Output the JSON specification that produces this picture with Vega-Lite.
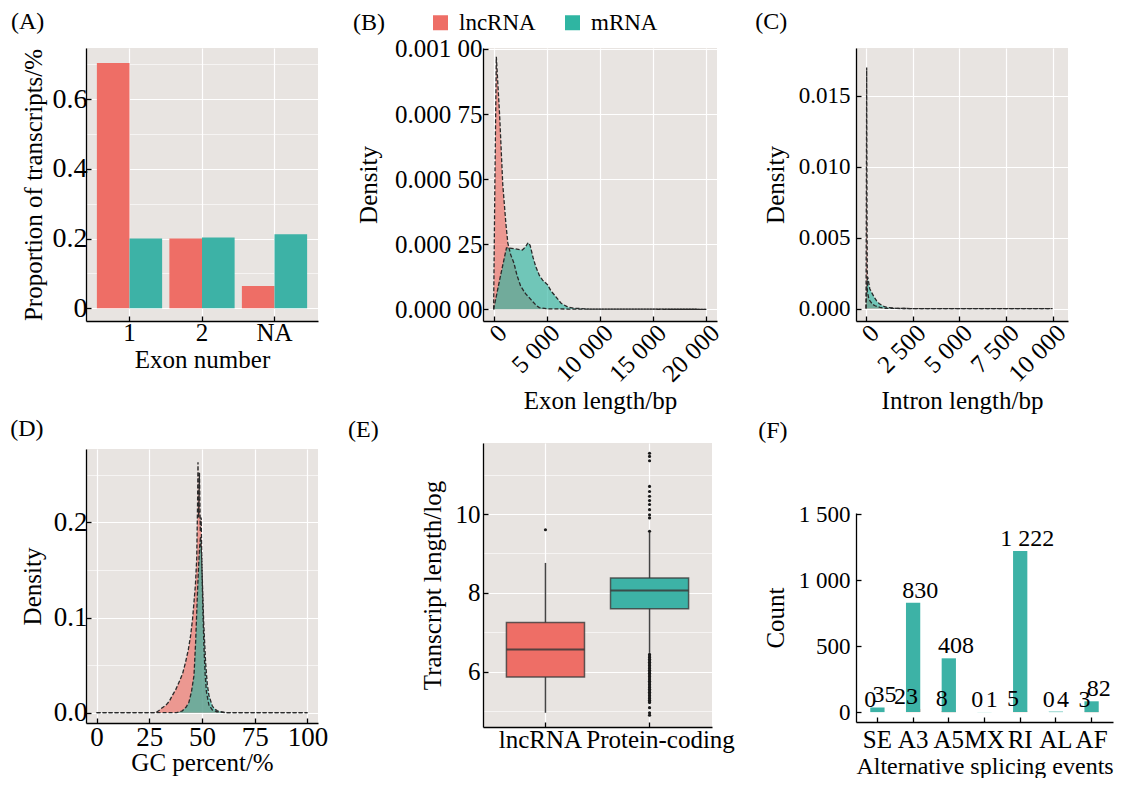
{
  "$schema": "https://vega.github.io/schema/vega-lite/v6.json",
  "background": "white",
  "padding": {"left": 10, "top": 10, "right": 0, "bottom": 0},
  "config": {
    "font": "Liberation Serif",
    "locale": {"number": {"decimal": ".", "thousands": " ", "grouping": [3], "currency": ["", ""]}},
    "view": {"fill": "#E8E4E1", "stroke": null},
    "title": {"anchor": "start", "frame": "bounds", "fontSize": 24, "fontWeight": "normal", "font": "Liberation Serif", "color": "#000000"},
    "axis": {
      "domainColor": "#000000", "domainWidth": 1.3,
      "tickColor": "#000000", "tickWidth": 1.3, "tickSize": -5,
      "labelColor": "#000000", "labelFont": "Liberation Serif", "labelFontSize": 25,
      "titleColor": "#000000", "titleFont": "Liberation Serif", "titleFontSize": 25, "titleFontWeight": "normal",
      "gridColor": "#FFFFFF", "gridWidth": 1.2,
      "labelPadding": 8, "titlePadding": 6,
      "labelOverlap": false, "labelFlush": false
    }
  },
  "datasets": {
    "exon": [
      {"exon": "1", "type": "lncRNA", "prop": 0.703},
      {"exon": "1", "type": "mRNA", "prop": 0.2},
      {"exon": "2", "type": "lncRNA", "prop": 0.2},
      {"exon": "2", "type": "mRNA", "prop": 0.203},
      {"exon": "NA", "type": "lncRNA", "prop": 0.064},
      {"exon": "NA", "type": "mRNA", "prop": 0.212}
    ],
    "exonlen": [
      {"type": "lncRNA", "x": 0, "d": 0},
      {"type": "lncRNA", "x": 120, "d": 0.0005},
      {"type": "lncRNA", "x": 254, "d": 0.00097},
      {"type": "lncRNA", "x": 571, "d": 0.00074},
      {"type": "lncRNA", "x": 857, "d": 0.00048},
      {"type": "lncRNA", "x": 1150, "d": 0.00033},
      {"type": "lncRNA", "x": 1333, "d": 0.000255},
      {"type": "lncRNA", "x": 1600, "d": 0.00021},
      {"type": "lncRNA", "x": 1905, "d": 0.000178},
      {"type": "lncRNA", "x": 2200, "d": 0.00013},
      {"type": "lncRNA", "x": 2540, "d": 0.000089},
      {"type": "lncRNA", "x": 3000, "d": 0.00006},
      {"type": "lncRNA", "x": 3492, "d": 0.000038},
      {"type": "lncRNA", "x": 4000, "d": 0.000015},
      {"type": "lncRNA", "x": 4286, "d": 0.0000064},
      {"type": "lncRNA", "x": 5000, "d": 0.000002},
      {"type": "lncRNA", "x": 7000, "d": 0.000001},
      {"type": "lncRNA", "x": 10000, "d": 0.0000005},
      {"type": "lncRNA", "x": 20000, "d": 0},
      {"type": "mRNA", "x": 0, "d": 0},
      {"type": "mRNA", "x": 600, "d": 0.00012},
      {"type": "mRNA", "x": 1206, "d": 0.000236},
      {"type": "mRNA", "x": 1500, "d": 0.000235},
      {"type": "mRNA", "x": 2063, "d": 0.000232},
      {"type": "mRNA", "x": 2698, "d": 0.000228},
      {"type": "mRNA", "x": 3000, "d": 0.00024},
      {"type": "mRNA", "x": 3238, "d": 0.000256},
      {"type": "mRNA", "x": 3429, "d": 0.000246},
      {"type": "mRNA", "x": 3700, "d": 0.0002},
      {"type": "mRNA", "x": 3968, "d": 0.000163},
      {"type": "mRNA", "x": 4300, "d": 0.00013},
      {"type": "mRNA", "x": 4603, "d": 0.000112},
      {"type": "mRNA", "x": 5079, "d": 0.000094},
      {"type": "mRNA", "x": 5400, "d": 0.00007},
      {"type": "mRNA", "x": 5714, "d": 0.000055},
      {"type": "mRNA", "x": 6349, "d": 0.000023},
      {"type": "mRNA", "x": 6984, "d": 0.0000083},
      {"type": "mRNA", "x": 7619, "d": 0.000004},
      {"type": "mRNA", "x": 9000, "d": 0.000001},
      {"type": "mRNA", "x": 12000, "d": 0.0000005},
      {"type": "mRNA", "x": 20000, "d": 0}
    ],
    "intronlen": [
      {"type": "lncRNA", "x": 0, "d": 0},
      {"type": "lncRNA", "x": 20, "d": 0.009},
      {"type": "lncRNA", "x": 36, "d": 0.017},
      {"type": "lncRNA", "x": 55, "d": 0.006},
      {"type": "lncRNA", "x": 72, "d": 0.0012},
      {"type": "lncRNA", "x": 150, "d": 0.0007},
      {"type": "lncRNA", "x": 215, "d": 0.00054},
      {"type": "lncRNA", "x": 350, "d": 0.0003},
      {"type": "lncRNA", "x": 483, "d": 0.0002},
      {"type": "lncRNA", "x": 750, "d": 0.00008},
      {"type": "lncRNA", "x": 1020, "d": 0.00002},
      {"type": "lncRNA", "x": 2000, "d": 0.000005},
      {"type": "lncRNA", "x": 4000, "d": 0},
      {"type": "lncRNA", "x": 10000, "d": 0},
      {"type": "mRNA", "x": 0, "d": 0},
      {"type": "mRNA", "x": 40, "d": 0.0016},
      {"type": "mRNA", "x": 89, "d": 0.00223},
      {"type": "mRNA", "x": 150, "d": 0.0018},
      {"type": "mRNA", "x": 200, "d": 0.0014},
      {"type": "mRNA", "x": 304, "d": 0.00113},
      {"type": "mRNA", "x": 440, "d": 0.0008},
      {"type": "mRNA", "x": 572, "d": 0.00054},
      {"type": "mRNA", "x": 700, "d": 0.00036},
      {"type": "mRNA", "x": 841, "d": 0.00024},
      {"type": "mRNA", "x": 1000, "d": 0.00013},
      {"type": "mRNA", "x": 1199, "d": 0.00007},
      {"type": "mRNA", "x": 1600, "d": 0.00002},
      {"type": "mRNA", "x": 2200, "d": 0.000005},
      {"type": "mRNA", "x": 3000, "d": 0},
      {"type": "mRNA", "x": 10000, "d": 0}
    ],
    "gc": [
      {"type": "lncRNA", "x": 0, "d": 0},
      {"type": "lncRNA", "x": 28, "d": 0},
      {"type": "lncRNA", "x": 29.6, "d": 0.0024},
      {"type": "lncRNA", "x": 31, "d": 0.005},
      {"type": "lncRNA", "x": 32.8, "d": 0.0077},
      {"type": "lncRNA", "x": 34.5, "d": 0.012},
      {"type": "lncRNA", "x": 35.9, "d": 0.018},
      {"type": "lncRNA", "x": 37.5, "d": 0.024},
      {"type": "lncRNA", "x": 39.1, "d": 0.032},
      {"type": "lncRNA", "x": 40.8, "d": 0.041},
      {"type": "lncRNA", "x": 42.2, "d": 0.053},
      {"type": "lncRNA", "x": 43.5, "d": 0.066},
      {"type": "lncRNA", "x": 44.6, "d": 0.081},
      {"type": "lncRNA", "x": 45.5, "d": 0.098},
      {"type": "lncRNA", "x": 46.2, "d": 0.116},
      {"type": "lncRNA", "x": 46.9, "d": 0.135},
      {"type": "lncRNA", "x": 47.5, "d": 0.162},
      {"type": "lncRNA", "x": 47.9, "d": 0.22},
      {"type": "lncRNA", "x": 48.1, "d": 0.263},
      {"type": "lncRNA", "x": 48.4, "d": 0.205},
      {"type": "lncRNA", "x": 48.8, "d": 0.252},
      {"type": "lncRNA", "x": 49.2, "d": 0.19},
      {"type": "lncRNA", "x": 49.6, "d": 0.205},
      {"type": "lncRNA", "x": 50.0, "d": 0.15},
      {"type": "lncRNA", "x": 50.4, "d": 0.11},
      {"type": "lncRNA", "x": 50.9, "d": 0.07},
      {"type": "lncRNA", "x": 51.5, "d": 0.04},
      {"type": "lncRNA", "x": 52.1, "d": 0.022},
      {"type": "lncRNA", "x": 53.3, "d": 0.008},
      {"type": "lncRNA", "x": 54.9, "d": 0.003},
      {"type": "lncRNA", "x": 57, "d": 0.001},
      {"type": "lncRNA", "x": 61.2, "d": 0},
      {"type": "lncRNA", "x": 100, "d": 0},
      {"type": "mRNA", "x": 0, "d": 0},
      {"type": "mRNA", "x": 38, "d": 0},
      {"type": "mRNA", "x": 40.7, "d": 0.002},
      {"type": "mRNA", "x": 42.5, "d": 0.006},
      {"type": "mRNA", "x": 43.8, "d": 0.011},
      {"type": "mRNA", "x": 45, "d": 0.022},
      {"type": "mRNA", "x": 46.2, "d": 0.039},
      {"type": "mRNA", "x": 47, "d": 0.075},
      {"type": "mRNA", "x": 47.8, "d": 0.123},
      {"type": "mRNA", "x": 48.3, "d": 0.15},
      {"type": "mRNA", "x": 48.8, "d": 0.172},
      {"type": "mRNA", "x": 49.3, "d": 0.185},
      {"type": "mRNA", "x": 49.8, "d": 0.165},
      {"type": "mRNA", "x": 50.3, "d": 0.13},
      {"type": "mRNA", "x": 50.8, "d": 0.095},
      {"type": "mRNA", "x": 51.7, "d": 0.053},
      {"type": "mRNA", "x": 52.5, "d": 0.03},
      {"type": "mRNA", "x": 53.3, "d": 0.018},
      {"type": "mRNA", "x": 54.9, "d": 0.007},
      {"type": "mRNA", "x": 56, "d": 0.004},
      {"type": "mRNA", "x": 57.3, "d": 0.002},
      {"type": "mRNA", "x": 61.2, "d": 0},
      {"type": "mRNA", "x": 100, "d": 0}
    ],
    "boxstats": [
      {"group": "lncRNA", "lower": 4.96, "q1": 5.865, "median": 6.565, "q3": 7.25, "upper": 8.76},
      {"group": "Protein-coding", "lower": 6.48, "q1": 7.595, "median": 8.06, "q3": 8.38, "upper": 9.52}
    ],
    "outliers": [
      {"group": "lncRNA", "v": 9.6},
      {"group": "Protein-coding", "v": 9.56},
      {"group": "Protein-coding", "v": 9.9},
      {"group": "Protein-coding", "v": 9.98},
      {"group": "Protein-coding", "v": 10.11},
      {"group": "Protein-coding", "v": 10.24},
      {"group": "Protein-coding", "v": 10.34},
      {"group": "Protein-coding", "v": 10.45},
      {"group": "Protein-coding", "v": 10.57},
      {"group": "Protein-coding", "v": 10.7},
      {"group": "Protein-coding", "v": 11.35},
      {"group": "Protein-coding", "v": 11.46},
      {"group": "Protein-coding", "v": 11.54},
      {"group": "Protein-coding", "v": 6.44},
      {"group": "Protein-coding", "v": 6.4},
      {"group": "Protein-coding", "v": 6.36},
      {"group": "Protein-coding", "v": 6.32},
      {"group": "Protein-coding", "v": 6.28},
      {"group": "Protein-coding", "v": 6.24},
      {"group": "Protein-coding", "v": 6.2},
      {"group": "Protein-coding", "v": 6.16},
      {"group": "Protein-coding", "v": 6.12},
      {"group": "Protein-coding", "v": 6.08},
      {"group": "Protein-coding", "v": 6.04},
      {"group": "Protein-coding", "v": 6.0},
      {"group": "Protein-coding", "v": 5.96},
      {"group": "Protein-coding", "v": 5.92},
      {"group": "Protein-coding", "v": 5.88},
      {"group": "Protein-coding", "v": 5.84},
      {"group": "Protein-coding", "v": 5.8},
      {"group": "Protein-coding", "v": 5.76},
      {"group": "Protein-coding", "v": 5.72},
      {"group": "Protein-coding", "v": 5.68},
      {"group": "Protein-coding", "v": 5.64},
      {"group": "Protein-coding", "v": 5.6},
      {"group": "Protein-coding", "v": 5.56},
      {"group": "Protein-coding", "v": 5.52},
      {"group": "Protein-coding", "v": 5.48},
      {"group": "Protein-coding", "v": 5.44},
      {"group": "Protein-coding", "v": 5.4},
      {"group": "Protein-coding", "v": 5.36},
      {"group": "Protein-coding", "v": 5.32},
      {"group": "Protein-coding", "v": 5.28},
      {"group": "Protein-coding", "v": 5.24},
      {"group": "Protein-coding", "v": 5.22},
      {"group": "Protein-coding", "v": 5.09},
      {"group": "Protein-coding", "v": 4.96},
      {"group": "Protein-coding", "v": 4.9}
    ],
    "splicing": [
      {"event": "SE", "type": "lncRNA", "count": 0},
      {"event": "SE", "type": "mRNA", "count": 35},
      {"event": "A3", "type": "lncRNA", "count": 23},
      {"event": "A3", "type": "mRNA", "count": 830},
      {"event": "A5", "type": "lncRNA", "count": 8},
      {"event": "A5", "type": "mRNA", "count": 408},
      {"event": "MX", "type": "lncRNA", "count": 0},
      {"event": "MX", "type": "mRNA", "count": 1},
      {"event": "RI", "type": "lncRNA", "count": 5},
      {"event": "RI", "type": "mRNA", "count": 1222},
      {"event": "AL", "type": "lncRNA", "count": 0},
      {"event": "AL", "type": "mRNA", "count": 4},
      {"event": "AF", "type": "lncRNA", "count": 3},
      {"event": "AF", "type": "mRNA", "count": 82}
    ]
  },
  "spacing": 20,
  "resolve": {"scale": {"color": "independent"}, "legend": {"color": "independent"}},
  "hconcat": [
    {
      "spacing": 45,
      "resolve": {"scale": {"color": "independent"}, "legend": {"color": "independent"}},
      "vconcat": [
        {
          "width": 232, "height": 273,
          "title": {"text": "(A)", "dx": -10, "offset": 14},
          "data": {"name": "exon"},
          "mark": {"type": "bar"},
          "encoding": {
            "x": {"field": "exon", "type": "nominal", "sort": ["1", "2", "NA"],
                  "scale": {"paddingInner": 0.1, "paddingOuter": 0.15},
                  "axis": {"title": "Exon number", "labelAngle": 0, "bandPosition": 0.5, "grid": true, "labelPadding": 4, "titlePadding": 2}},
            "xOffset": {"field": "type", "type": "nominal", "sort": ["lncRNA", "mRNA"], "scale": {"paddingInner": 0}},
            "y": {"field": "prop", "type": "quantitative",
                  "scale": {"domain": [-0.0364, 0.7463], "nice": false, "zero": false},
                  "axis": {"title": "Proportion of transcripts/%", "values": [0, 0.1, 0.2, 0.3, 0.4, 0.5, 0.6, 0.7],
                           "labelExpr": "indexof([0, 0.2, 0.4, 0.6], datum.value) >= 0 ? format(datum.value, '~g') : ''",
                           "tickOpacity": {"condition": {"test": "indexof([0, 0.2, 0.4, 0.6], datum.value) < 0", "value": 0}, "value": 1},
                           "gridWidth": {"condition": {"test": "indexof([0, 0.2, 0.4, 0.6], datum.value) < 0", "value": 0.6}, "value": 1.2},
                           "labelFontSize": 28, "labelPadding": 4, "titlePadding": 6}},
            "y2": {"datum": 0},
            "color": {"field": "type", "type": "nominal", "scale": {"domain": ["lncRNA", "mRNA"], "range": ["#EE6E66", "#3DB2A6"]}, "legend": null}
          }
        },
        {
          "width": 232, "height": 274,
          "title": {"text": "(D)", "dx": -10, "offset": 8},
          "data": {"name": "gc"},
          "layer": [
            {
              "mark": {"type": "area", "fillOpacity": 0.65},
              "encoding": {
                "x": {"field": "x", "type": "quantitative",
                      "scale": {"domain": [-5, 105], "nice": false, "zero": false},
                      "axis": {"title": "GC percent/%", "values": [0, 12.5, 25, 37.5, 50, 62.5, 75, 87.5, 100],
                               "labelExpr": "indexof([0, 25, 50, 75, 100], datum.value) >= 0 ? datum.label : ''",
                               "tickOpacity": {"condition": {"test": "indexof([0, 25, 50, 75, 100], datum.value) < 0", "value": 0}, "value": 1},
                               "gridWidth": {"condition": {"test": "indexof([0, 25, 50, 75, 100], datum.value) < 0", "value": 0.6}, "value": 1.2},
                               "labelFontSize": 27, "labelPadding": 6, "titlePadding": 0}},
                "y": {"field": "d", "type": "quantitative", "stack": null,
                      "scale": {"domain": [-0.0108, 0.277], "nice": false, "zero": false},
                      "axis": {"title": "Density", "values": [0, 0.05, 0.1, 0.15, 0.2, 0.25],
                               "labelExpr": "indexof([0, 0.1, 0.2], datum.value) >= 0 ? format(datum.value, '.1f') : ''",
                               "tickOpacity": {"condition": {"test": "indexof([0, 0.1, 0.2], datum.value) < 0", "value": 0}, "value": 1},
                               "gridWidth": {"condition": {"test": "indexof([0, 0.1, 0.2], datum.value) < 0", "value": 0.6}, "value": 1.2},
                               "labelFontSize": 27, "labelPadding": 4, "titlePadding": 8}},
                "color": {"field": "type", "type": "nominal", "scale": {"domain": ["lncRNA", "mRNA"], "range": ["#EE6E66", "#2FB5A2"]}, "legend": null}
              }
            },
            {
              "mark": {"type": "line", "color": "#2a2a2a", "strokeWidth": 1.3, "strokeDash": [4, 2]},
              "encoding": {
                "x": {"field": "x", "type": "quantitative"},
                "y": {"field": "d", "type": "quantitative"},
                "detail": {"field": "type"}
              }
            }
          ]
        }
      ]
    },
    {
      "spacing": 4,
      "resolve": {"scale": {"color": "independent"}, "legend": {"color": "independent"}},
      "vconcat": [
        {
          "width": 234, "height": 273,
          "data": {"name": "exonlen"},
          "layer": [
            {
              "mark": {"type": "area", "fillOpacity": 0.65},
              "encoding": {
                "x": {"field": "x", "type": "quantitative",
                      "scale": {"domain": [-1000, 21000], "nice": false, "zero": false},
                      "axis": {"title": "Exon length/bp", "values": [0, 2500, 5000, 7500, 10000, 12500, 15000, 17500, 20000],
                               "labelExpr": "indexof([0, 5000, 10000, 15000, 20000], datum.value) >= 0 ? format(datum.value, ',.0f') : ''",
                               "tickOpacity": {"condition": {"test": "indexof([0, 5000, 10000, 15000, 20000], datum.value) < 0", "value": 0}, "value": 1},
                               "gridWidth": {"condition": {"test": "indexof([0, 5000, 10000, 15000, 20000], datum.value) < 0", "value": 0.6}, "value": 1.2},
                               "labelAngle": 315, "labelPadding": 4, "titlePadding": 2}},
                "y": {"field": "d", "type": "quantitative", "stack": null,
                      "scale": {"domain": [-0.000045, 0.0010038], "nice": false, "zero": false},
                      "axis": {"title": "Density", "values": [0, 0.000125, 0.00025, 0.000375, 0.0005, 0.000625, 0.00075, 0.000875, 0.001],
                               "labelExpr": "indexof([0, 0.00025, 0.0005, 0.00075, 0.001], datum.value) >= 0 ? slice(format(datum.value, '.5f'), 0, 5) + ' ' + slice(format(datum.value, '.5f'), 5) : ''",
                               "tickOpacity": {"condition": {"test": "indexof([0, 0.00025, 0.0005, 0.00075, 0.001], datum.value) < 0", "value": 0}, "value": 1},
                               "gridWidth": {"condition": {"test": "indexof([0, 0.00025, 0.0005, 0.00075, 0.001], datum.value) < 0", "value": 0.6}, "value": 1.2},
                               "labelPadding": 6, "titlePadding": 13}},
                "color": {"field": "type", "type": "nominal", "scale": {"domain": ["lncRNA", "mRNA"], "range": ["#EE6E66", "#2FB5A2"]},
                          "legend": {"title": "(B)", "orient": "none", "legendX": -130, "legendY": -37, "direction": "horizontal",
                                     "titleOrient": "left", "titleFontSize": 24, "titleFontWeight": "normal", "titleFont": "Liberation Serif", "titleColor": "#000000",
                                     "titlePadding": 44, "labelFontSize": 23, "labelFont": "Liberation Serif", "labelColor": "#000000",
                                     "symbolType": "square", "symbolSize": 225, "symbolStrokeWidth": 0, "symbolOpacity": 1, "columnPadding": 25, "labelOffset": 7, "padding": 0}}
              }
            },
            {
              "mark": {"type": "line", "color": "#2a2a2a", "strokeWidth": 1.3, "strokeDash": [4, 2]},
              "encoding": {
                "x": {"field": "x", "type": "quantitative"},
                "y": {"field": "d", "type": "quantitative"},
                "detail": {"field": "type"}
              }
            }
          ]
        },
        {
          "width": 229, "height": 284,
          "title": {"text": "(E)", "dx": -72, "offset": 1},
          "layer": [
            {
              "data": {"name": "boxstats"},
              "mark": {"type": "rule", "color": "#444444", "strokeWidth": 1.5},
              "encoding": {
                "x": {"field": "group", "type": "nominal", "sort": ["lncRNA", "Protein-coding"],
                      "scale": {"paddingInner": 0.25, "paddingOuter": 0.225},
                      "axis": {"title": null, "labelAngle": 0, "bandPosition": 0.5, "grid": true, "labelPadding": 5,
                               "labelOffset": {"condition": {"test": "datum.value === 'lncRNA'", "value": -5}, "value": 11}}},
                "y": {"field": "lower", "type": "quantitative",
                      "scale": {"domain": [4.6, 11.8], "nice": false, "zero": false},
                      "axis": {"title": "Transcript length/log", "values": [5, 6, 7, 8, 9, 10, 11],
                               "labelExpr": "indexof([6, 8, 10], datum.value) >= 0 ? datum.label : ''",
                               "tickOpacity": {"condition": {"test": "indexof([6, 8, 10], datum.value) < 0", "value": 0}, "value": 1},
                               "gridWidth": {"condition": {"test": "indexof([6, 8, 10], datum.value) < 0", "value": 0.6}, "value": 1.2},
                               "labelPadding": 8, "titlePadding": 10}},
                "y2": {"field": "upper"}
              }
            },
            {
              "data": {"name": "boxstats"},
              "mark": {"type": "bar", "stroke": "#3a3a3a", "strokeWidth": 1.5, "strokeOpacity": 0.8},
              "encoding": {
                "x": {"field": "group", "type": "nominal", "sort": ["lncRNA", "Protein-coding"]},
                "y": {"field": "q1", "type": "quantitative"},
                "y2": {"field": "q3"},
                "color": {"field": "group", "type": "nominal", "scale": {"domain": ["lncRNA", "Protein-coding"], "range": ["#EE6E66", "#3DB2A6"]}, "legend": null}
              }
            },
            {
              "data": {"name": "boxstats"},
              "mark": {"type": "bar", "fill": null, "stroke": "#3a3a3a", "strokeWidth": 2, "strokeOpacity": 0.85},
              "encoding": {
                "x": {"field": "group", "type": "nominal", "sort": ["lncRNA", "Protein-coding"]},
                "y": {"field": "median", "type": "quantitative"},
                "y2": {"field": "median"}
              }
            },
            {
              "data": {"name": "outliers"},
              "mark": {"type": "point", "filled": true, "color": "#1a1a1a", "size": 10, "opacity": 1},
              "encoding": {
                "x": {"field": "group", "type": "nominal", "sort": ["lncRNA", "Protein-coding"]},
                "y": {"field": "v", "type": "quantitative"}
              }
            }
          ]
        }
      ]
    },
    {
      "spacing": 5,
      "resolve": {"scale": {"color": "independent"}, "legend": {"color": "independent"}},
      "vconcat": [
        {
          "width": 212, "height": 273,
          "title": {"text": "(C)", "dx": -8, "offset": 14},
          "data": {"name": "intronlen"},
          "layer": [
            {
              "mark": {"type": "area", "fillOpacity": 0.65},
              "encoding": {
                "x": {"field": "x", "type": "quantitative",
                      "scale": {"domain": [-537, 10827], "nice": false, "zero": false},
                      "axis": {"title": "Intron length/bp", "values": [0, 1250, 2500, 3750, 5000, 6250, 7500, 8750, 10000],
                               "labelExpr": "indexof([0, 2500, 5000, 7500, 10000], datum.value) >= 0 ? format(datum.value, ',.0f') : ''",
                               "tickOpacity": {"condition": {"test": "indexof([0, 2500, 5000, 7500, 10000], datum.value) < 0", "value": 0}, "value": 1},
                               "gridWidth": {"condition": {"test": "indexof([0, 2500, 5000, 7500, 10000], datum.value) < 0", "value": 0.6}, "value": 1.2},
                               "labelAngle": 315, "labelPadding": 4, "titlePadding": 2}},
                "y": {"field": "d", "type": "quantitative", "stack": null,
                      "scale": {"domain": [-0.000875, 0.01837], "nice": false, "zero": false},
                      "axis": {"title": "Density", "values": [0, 0.0025, 0.005, 0.0075, 0.01, 0.0125, 0.015, 0.0175],
                               "labelExpr": "indexof([0, 0.005, 0.01, 0.015], datum.value) >= 0 ? format(datum.value, '.3f') : ''",
                               "tickOpacity": {"condition": {"test": "indexof([0, 0.005, 0.01, 0.015], datum.value) < 0", "value": 0}, "value": 1},
                               "gridWidth": {"condition": {"test": "indexof([0, 0.005, 0.01, 0.015], datum.value) < 0", "value": 0.6}, "value": 1.2},
                               "labelFontSize": 23, "labelPadding": 11, "titlePadding": 10}},
                "color": {"field": "type", "type": "nominal", "scale": {"domain": ["lncRNA", "mRNA"], "range": ["#EE6E66", "#2FB5A2"]}, "legend": null}
              }
            },
            {
              "mark": {"type": "line", "color": "#2a2a2a", "strokeWidth": 1.3, "strokeDash": [4, 2]},
              "encoding": {
                "x": {"field": "x", "type": "quantitative"},
                "y": {"field": "d", "type": "quantitative"},
                "detail": {"field": "type"}
              }
            }
          ]
        },
        {
          "width": 257, "height": 209,
          "view": {"fill": null},
          "title": {"text": "(F)", "dx": -5, "offset": 60},
          "data": {"name": "splicing"},
          "encoding": {
            "x": {"field": "event", "type": "nominal", "sort": ["SE", "A3", "A5", "MX", "RI", "AL", "AF"],
                  "scale": {"paddingInner": 0.2, "paddingOuter": 0.2},
                  "axis": {"title": "Alternative splicing events", "titleFontSize": 24, "labelAngle": 0, "bandPosition": 0.5, "grid": false, "labelPadding": 10, "titlePadding": 2}},
            "y": {"field": "count", "type": "quantitative",
                  "scale": {"domain": [-75, 1510], "nice": false, "zero": false},
                  "axis": {"title": "Count", "values": [0, 500, 1000, 1500], "format": ",.0f", "grid": false, "labelFontSize": 23, "labelPadding": 11, "titlePadding": 10}}
          },
          "layer": [
            {
              "transform": [{"filter": "datum.type === 'lncRNA'"}],
              "mark": {"type": "bar", "width": {"band": 0.5}, "color": "#EE6E66"},
              "encoding": {
                "x": {"field": "event", "type": "nominal", "sort": ["SE", "A3", "A5", "MX", "RI", "AL", "AF"], "bandPosition": 0.25},
                "y2": {"datum": 0}
              }
            },
            {
              "transform": [{"filter": "datum.type === 'mRNA'"}],
              "mark": {"type": "bar", "width": {"band": 0.5}, "color": "#3DB2A6"},
              "encoding": {
                "x": {"field": "event", "type": "nominal", "sort": ["SE", "A3", "A5", "MX", "RI", "AL", "AF"], "bandPosition": 0.75},
                "y2": {"datum": 0}
              }
            },
            {
              "transform": [{"filter": "datum.type === 'lncRNA'"}],
              "mark": {"type": "text", "baseline": "alphabetic", "dy": -5, "fontSize": 24, "font": "Liberation Serif", "color": "#000000"},
              "encoding": {
                "x": {"field": "event", "type": "nominal", "sort": ["SE", "A3", "A5", "MX", "RI", "AL", "AF"], "bandPosition": 0.25},
                "text": {"field": "count", "type": "quantitative", "format": ","}
              }
            },
            {
              "transform": [{"filter": "datum.type === 'mRNA'"}],
              "mark": {"type": "text", "baseline": "alphabetic", "dy": -5, "fontSize": 24, "font": "Liberation Serif", "color": "#000000"},
              "encoding": {
                "x": {"field": "event", "type": "nominal", "sort": ["SE", "A3", "A5", "MX", "RI", "AL", "AF"], "bandPosition": 0.75},
                "text": {"field": "count", "type": "quantitative", "format": ","}
              }
            }
          ]
        }
      ]
    }
  ]
}
